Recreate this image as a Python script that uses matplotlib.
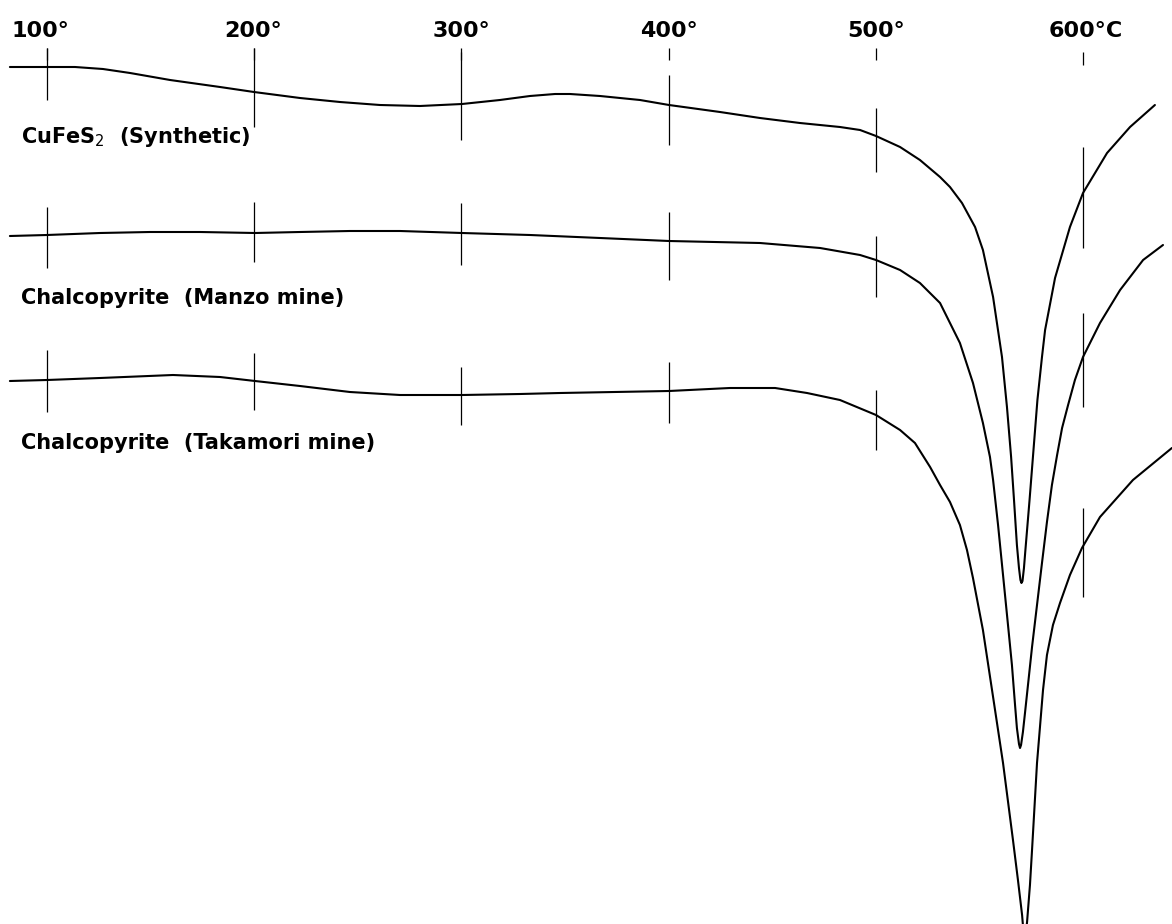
import matplotlib
matplotlib.use("Agg")
import matplotlib.pyplot as plt
from matplotlib.transforms import offset_copy

# ---- temperature axis (deg C) ----
tick_temps = [100, 200, 300, 400, 500, 600]
tick_labels = ["100°", "200°", "300°", "400°", "500°", "600°C"]

# ---- DTA traces: temperature (deg C) and pen deflection (downward, chart units) ----
syn_T = [82.1, 100.0, 113.5, 127.0, 140.1, 159.4, 183.5, 199.9, 222.1, 241.4, 260.7, 280.0,
         300.3, 318.6, 333.1, 345.2, 352.4, 366.9, 386.2, 400.2, 424.8, 444.1, 463.4, 482.7,
         492.4, 500.1, 511.7, 521.3, 531.0, 535.8, 541.6, 547.9, 551.7, 556.6, 560.9, 563.3,
         565.3, 566.7, 568.1, 569.1, 569.8, 570.3, 570.8, 571.5, 572.2, 574.2, 576.1, 578.0,
         580.2, 581.7, 586.5, 593.7, 600.0, 611.6, 622.7, 634.7]
syn_y = [67, 67, 67, 69, 73, 80, 87, 92, 98, 102, 105, 106,
         104, 100, 96, 94, 94, 96, 100, 105, 112, 118, 123, 127,
         130, 136, 147, 160, 177, 187, 203, 227, 250, 297, 357, 407,
         457, 500, 545, 568, 580, 583, 581, 568, 550, 500, 450, 400,
         357, 330, 278, 227, 193, 153, 127, 105]

manzo_T = [82.1, 100.0, 125.6, 149.7, 173.8, 200.4, 222.1, 246.2, 270.4, 300.3, 333.1, 366.9,
           400.2, 444.1, 473.1, 492.4, 500.1, 511.7, 521.3, 531.0, 540.6, 546.9, 551.7, 555.1,
           556.6, 559.0, 561.4, 563.8, 565.7, 567.2, 568.1, 569.1, 569.6, 570.1, 571.0, 572.0,
           575.4, 580.2, 582.6, 585.0, 587.5, 589.9, 592.8, 596.1, 600.0, 608.2, 617.9, 629.0,
           638.6]
manzo_y = [236, 235, 233, 232, 232, 233, 232, 231, 231, 233, 235, 238,
           241, 243, 248, 255, 260, 270, 283, 303, 343, 383, 423, 457,
           480, 525, 575, 625, 665, 705, 728, 744, 748, 745, 732, 713,
           647, 563, 522, 485, 455, 428, 405, 380, 357, 323, 290, 260,
           245]

taka_T = [82.1, 100.0, 125.6, 160.8, 183.5, 200.4, 222.1, 246.2, 270.4, 300.3, 328.3, 347.6,
          400.2, 429.6, 451.4, 466.8, 482.7, 500.1, 511.7, 518.9, 526.2, 531.0, 535.8, 540.6,
          544.0, 546.9, 551.7, 556.6, 561.4, 566.2, 568.6, 570.6, 571.8, 573.0, 574.4, 575.4,
          577.8, 580.7, 582.6, 585.5, 588.9, 593.7, 599.5, 608.2, 624.1, 642.9]
taka_y = [381, 380, 378, 375, 377, 381, 386, 392, 395, 395, 394, 393,
          391, 388, 388, 393, 400, 415, 430, 443, 467, 485, 502, 525,
          550, 578, 630, 697, 763, 840, 880, 915, 945, 922, 885, 850,
          763, 690, 655, 625, 603, 575, 548, 517, 480, 448]

# ---- temperature marker strokes drawn by the recorder (top, bottom deflection) ----
label_tick_top = [48, 48, 48, 48, 48, 52]
label_tick_bot = [60, 60, 60, 60, 60, 65]
syn_tick_top = [48, 48, 52, 75, 108, 147]
syn_tick_bot = [100, 127, 140, 145, 172, 248]
manzo_tick_top = [207, 202, 203, 212, 236, 313]
manzo_tick_bot = [268, 262, 265, 280, 297, 407]
taka_tick_top = [350, 353, 367, 362, 390, 508]
taka_tick_bot = [412, 410, 425, 423, 450, 597]

names = ["CuFeS$_{2}$  (Synthetic)", "Chalcopyrite  (Manzo mine)", "Chalcopyrite  (Takamori mine)"]
name_T = [87.5, 87.5, 87.5]
name_y = [137, 298, 443]

fig = plt.figure(figsize=(11.72, 9.24), dpi=100)
ax = fig.add_axes([0, 0, 1, 1])
ax.set_xlim(77.32, 642.95)
ax.set_ylim(924, 0)
ax.axis("off")

lw = 1.5
for T, y in [(syn_T, syn_y), (manzo_T, manzo_y), (taka_T, taka_y)]:
    ax.plot(T, y, color="black", lw=lw, solid_joinstyle="round", solid_capstyle="round")

tk = 0.9
ax.vlines(tick_temps, label_tick_top, label_tick_bot, color="black", lw=tk)
ax.vlines(tick_temps, syn_tick_top, syn_tick_bot, color="black", lw=tk)
ax.vlines(tick_temps, manzo_tick_top, manzo_tick_bot, color="black", lw=tk)
ax.vlines(tick_temps, taka_tick_top, taka_tick_bot, color="black", lw=tk)

label_shift_pt = [-5, -1, 0, 0, 0, 2]
for t, lab, dx in zip(tick_temps, tick_labels, label_shift_pt):
    tr = offset_copy(ax.transData, fig=fig, x=dx, y=0, units="points")
    ax.text(t, 31, lab, ha="center", va="center", fontsize=16, fontweight="bold",
            family="DejaVu Sans", transform=tr)

for n, tx, ty in zip(names, name_T, name_y):
    ax.text(tx, ty, n, ha="left", va="center", fontsize=15, fontweight="bold",
            family="DejaVu Sans")

fig.savefig("out.png", dpi=100)
